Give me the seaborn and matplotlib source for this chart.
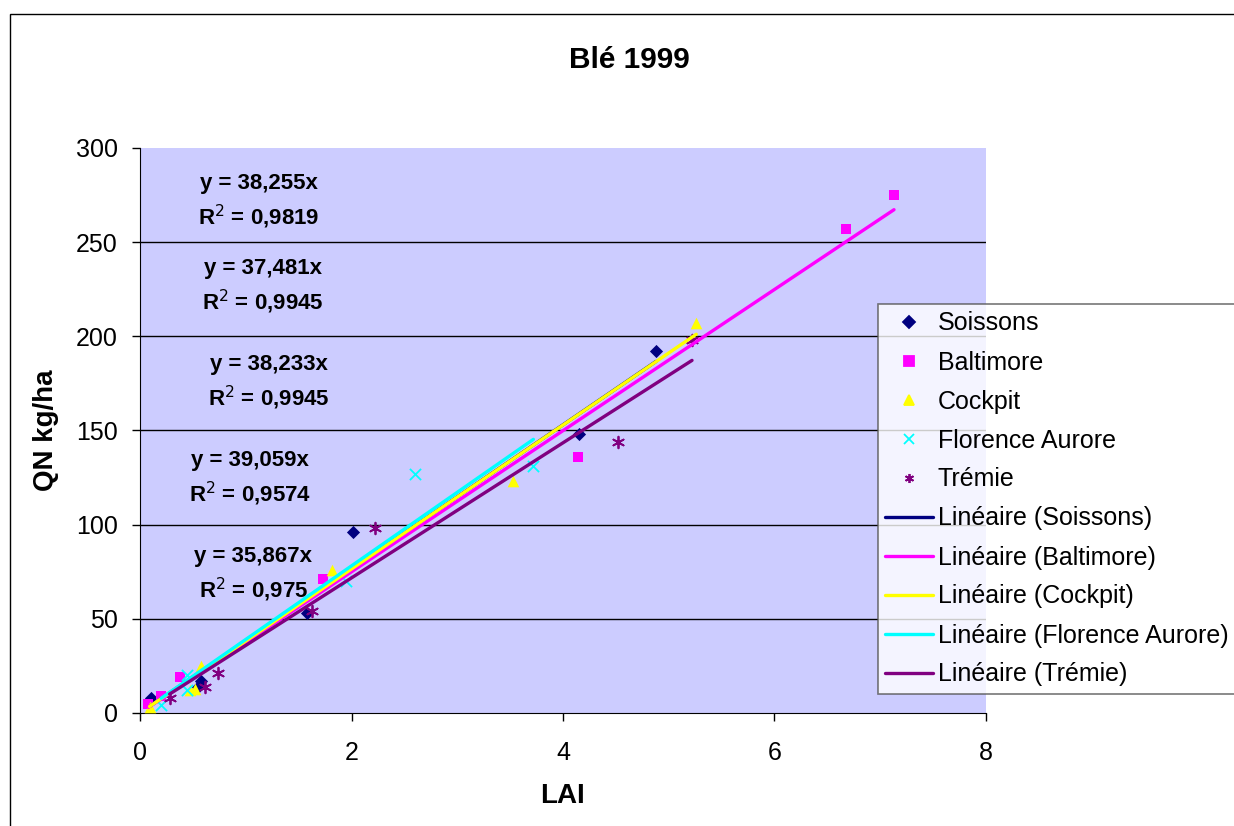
import numpy as np
import pandas as pd
import matplotlib
matplotlib.use("Agg")
import matplotlib.pyplot as plt
import seaborn as sns
from matplotlib.lines import Line2D
from matplotlib.patches import Rectangle

# LAI / QN values
soissons_x = [0.10, 0.55, 0.58, 1.58, 2.01, 4.15, 4.88]
soissons_y = [8, 14, 17, 53, 96, 148, 192]
baltimore_x = [0.08, 0.20, 0.38, 1.73, 4.14, 6.68, 7.13]
baltimore_y = [5, 9, 19, 71, 136, 257, 275]
cockpit_x = [0.09, 0.47, 0.52, 0.58, 1.82, 3.53, 5.26]
cockpit_y = [3, 12, 13, 25, 76, 123, 207]
florence_x = [0.20, 0.44, 0.44, 1.95, 2.60, 3.72]
florence_y = [4, 12, 20, 70, 127, 131]
tremie_x = [0.28, 0.61, 0.74, 1.63, 2.22, 4.52, 5.22]
tremie_y = [8, 14, 21, 54, 98, 144, 198]

varieties = ["Soissons", "Baltimore", "Cockpit", "Florence Aurore", "Trémie"]
slopes = [38.255, 37.481, 38.233, 39.059, 35.867]
r2_labels = ["0,9819", "0,9945", "0,9945", "0,9574", "0,975"]
slope_labels = ["38,255", "37,481", "38,233", "39,059", "35,867"]

colors = ["#000080", "#FF00FF", "#FFFF00", "#00FFFF", "#800080"]
markers = ["D", "s", "^", "x", (6, 2, 0)]
msizes = [45, 50, 70, 65, 70]

xs = [soissons_x, baltimore_x, cockpit_x, florence_x, tremie_x]
ys = [soissons_y, baltimore_y, cockpit_y, florence_y, tremie_y]

sns.set_style("white")
plt.rcParams["font.family"] = ["Liberation Sans", "DejaVu Sans"]
plt.rcParams["text.color"] = "black"
plt.rcParams["axes.labelcolor"] = "black"
plt.rcParams["xtick.color"] = "black"
plt.rcParams["ytick.color"] = "black"

fig = plt.figure(figsize=(12.34, 8.26), dpi=100)
ax = fig.add_axes([140 / 1234, 1 - 713 / 826, 846 / 1234, 565 / 826])
ax.set_facecolor("#CCCCFF")

for name, x, y, c, m, s in zip(varieties, xs, ys, colors, markers, msizes):
    df = pd.DataFrame({"LAI": x, "QN": y})
    line_marker = m in ("x", (6, 2, 0))
    sns.scatterplot(data=df, x="LAI", y="QN", ax=ax, color=c, marker=m, s=s,
                    edgecolor=None if line_marker else c,
                    linewidth=1.3 if line_marker else 0, zorder=3)

for name, x, k, c in zip(varieties, xs, slopes, colors):
    lx = np.array([min(x), max(x)])
    sns.lineplot(x=lx, y=k * lx, ax=ax, color=c, linewidth=2.4, zorder=4)

ax.set_xlim(0, 8)
ax.set_ylim(0, 300)
ax.set_xticks([0, 2, 4, 6, 8])
ax.set_yticks(range(0, 301, 50))
for gy in range(50, 300, 50):
    ax.axhline(gy, color="black", linewidth=1, zorder=1)
for side in ["top", "right"]:
    ax.spines[side].set_visible(False)
ax.spines["left"].set_color("black")
ax.spines["bottom"].set_color("black")
ax.tick_params(axis="both", direction="out", length=6, width=1, color="black",
               labelsize=18, left=True, bottom=True)
ax.tick_params(axis="y", pad=10)
ax.tick_params(axis="x", pad=14)
ax.set_xlabel("LAI", fontsize=20, fontweight="bold", labelpad=13)
ax.set_ylabel("QN kg/ha", fontsize=20, fontweight="bold", labelpad=12)
fig.text(629 / 1234, 1 - 60 / 826, "Blé 1999", ha="center", va="center",
         fontsize=21.5, fontweight="bold")

# equation labels
eq_x = [1.12, 1.16, 1.22, 1.04, 1.07]
eq_y = [281, 236, 185, 134, 83]
for ex, ey, sl, r2 in zip(eq_x, eq_y, slope_labels, r2_labels):
    ax.text(ex, ey, f"y = {sl}x", ha="center", va="center", fontsize=16, fontweight="bold", zorder=5)
    ax.text(ex, ey - 17.5, f"R$^2$ = {r2}", ha="center", va="center", fontsize=16, fontweight="bold", zorder=5)

handles = []
labels = []
for name, c, m in zip(varieties, colors, markers):
    handles.append(Line2D([], [], linestyle="none", marker=m, color=c, markersize=6.5,
                          markeredgewidth=1.3))
    labels.append(name)
for name, c in zip(varieties, colors):
    handles.append(Line2D([], [], color=c, linewidth=2.4))
    labels.append(f"Linéaire ({name})")
leg = fig.legend(handles, labels, loc="upper left", bbox_to_anchor=(878 / 1234, 1 - 304 / 826),
                 fontsize=18, frameon=True, fancybox=False, edgecolor="#555555",
                 handlelength=1.9, handletextpad=0.2, borderpad=0.3, labelspacing=0.6,
                 borderaxespad=0)
leg.get_frame().set_linewidth(1.2)

fig.patches.append(Rectangle((10 / 1234, -0.01), 1.2, 1 - 14 / 826 + 0.01, transform=fig.transFigure,
                             fill=False, edgecolor="black", linewidth=1))

fig.savefig("out.png", dpi=100, facecolor="white")
